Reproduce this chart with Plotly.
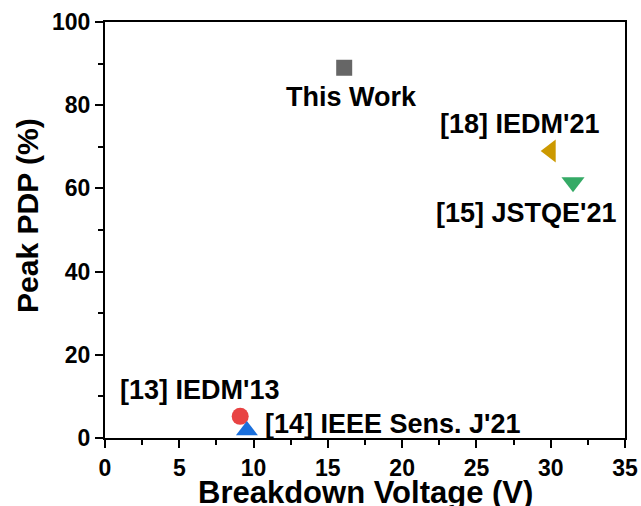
import plotly.graph_objects as go

# Breakdown voltage (V) and peak PDP (%) for each device
labels = ["This Work", "[18] IEDM'21", "[15] JSTQE'21", "[13] IEDM'13", "[14] IEEE Sens. J'21"]
voltage = [16.1, 30.0, 31.5, 9.1, 9.55]
pdp = [89.0, 69.0, 61.5, 5.2, 1.8]
symbols = ["square", "triangle-left", "triangle-down", "circle", "triangle-up"]
colors = ["#666666", "#cc9900", "#35aa66", "#e84343", "#1a6fdc"]
sizes = [16, 20, 20, 17, 19]

# Label anchor positions in data units
label_x = [16.56, 27.87, 28.40, 6.33, 19.38]
label_y = [82.0, 75.5, 54.0, 11.5, 3.4]

x_ticks = [0, 5, 10, 15, 20, 25, 30, 35]
y_ticks = [0, 20, 40, 60, 80, 100]

font_family = "Liberation Sans, Arial, sans-serif"

fig = go.Figure()
for i in range(len(labels)):
    fig.add_trace(go.Scatter(
        x=[voltage[i]], y=[pdp[i]], mode="markers", name=labels[i],
        marker=dict(symbol=symbols[i], color=colors[i], size=sizes[i], line=dict(width=0)),
        showlegend=False, hoverinfo="skip",
    ))
    fig.add_annotation(
        x=label_x[i], y=label_y[i], xref="x", yref="y", text="<b>%s</b>" % labels[i],
        showarrow=False, font=dict(family=font_family, size=27, color="black"),
    )

# Axis titles
fig.add_annotation(
    x=0.5, y=-0.130, xref="paper", yref="paper", text="<b>Breakdown Voltage (V)</b>",
    xanchor="center", yanchor="middle",
    showarrow=False, font=dict(family=font_family, size=31, color="black"),
)
fig.add_annotation(
    x=-0.148, y=0.534, xref="paper", yref="paper", text="<b>Peak PDP (%)</b>",
    xanchor="center", yanchor="middle",
    textangle=-90, showarrow=False, font=dict(family=font_family, size=30, color="black"),
)

axis_common = dict(
    showgrid=False, zeroline=False, showline=True, linecolor="black", linewidth=2,
    mirror=True, ticks="outside", ticklen=8, tickwidth=2, tickcolor="black",
    tickfont=dict(family=font_family, size=23, color="black"), automargin=False,
)

fig.update_xaxes(
    range=[0, 35], tickvals=x_ticks, ticktext=["<b>%d</b>" % t for t in x_ticks],
    minor=dict(ticks="outside", ticklen=5, tickwidth=2, tickcolor="black", dtick=2.5, tick0=0),
    **axis_common,
)
fig.update_yaxes(
    range=[0, 100], tickvals=y_ticks, ticktext=["<b>%d</b>" % t for t in y_ticks],
    minor=dict(ticks="outside", ticklen=5, tickwidth=2, tickcolor="black", dtick=10, tick0=0),
    **axis_common,
)

fig.update_layout(
    width=641, height=506,
    margin=dict(l=105, r=16, t=22, b=68),
    paper_bgcolor="white", plot_bgcolor="white",
    font=dict(family=font_family, color="black"),
)

fig.write_html("out.html")
